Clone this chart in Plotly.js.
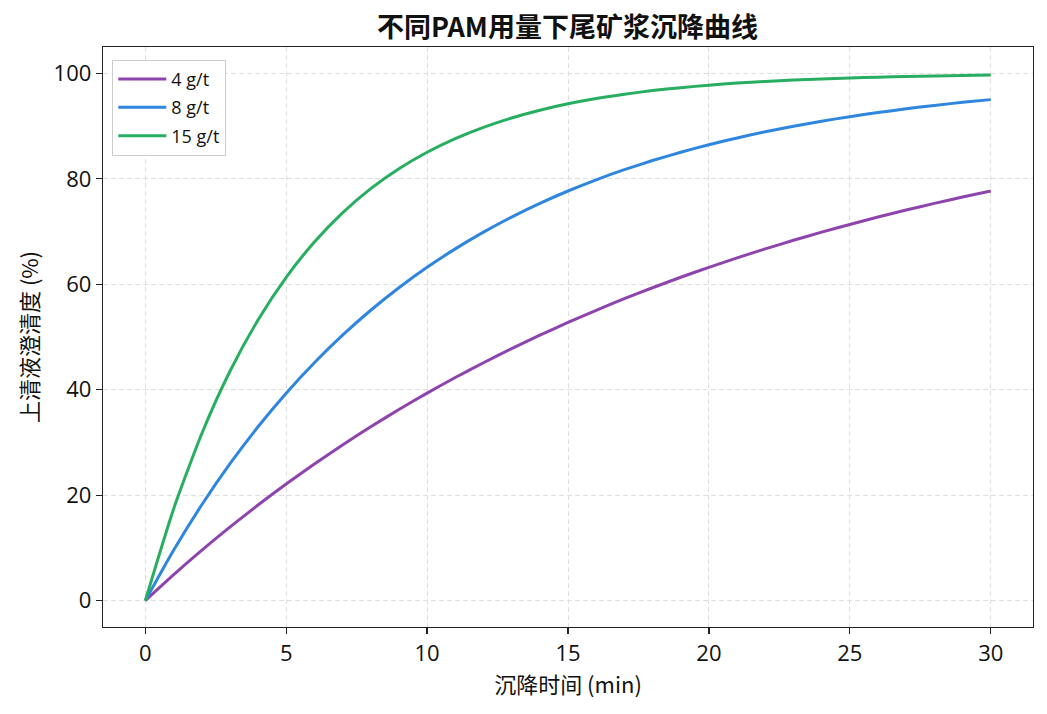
<!DOCTYPE html>
<html>
<head>
<meta charset="utf-8">
<script src="https://cdn.plot.ly/plotly-3.0.1.min.js"></script>
<style>html,body{margin:0;padding:0;background:#fff;}#chart{width:1047px;height:714px;}</style>
</head>
<body>
<div id="chart"></div>
<script>
const time = [0,1,2,3,4,5,6,7,8,9,10,11,12,13,14,15,16,17,18,19,20,21,22,23,24,25,26,27,28,29,30];
const seriesNames = ["4 g/t", "8 g/t", "15 g/t"];
const clarity4 = [0,4.88,9.52,13.93,18.13,22.12,25.92,29.53,32.97,36.24,39.35,42.31,45.12,47.80,50.34,52.76,55.07,57.26,59.34,61.33,63.21,65.01,66.71,68.34,69.88,71.35,72.75,74.08,75.34,76.54,77.69];
const clarity8 = [0,9.52,18.13,25.92,32.97,39.35,45.12,50.34,55.07,59.34,63.21,66.71,69.88,72.75,75.34,77.69,79.81,81.73,83.47,85.04,86.47,87.75,88.92,89.97,90.93,91.79,92.57,93.28,93.92,94.50,95.02];
const clarity15 = [0,17.30,31.61,43.45,53.23,61.33,68.02,73.55,78.13,81.91,85.04,87.63,89.77,91.54,93.01,94.22,95.22,96.04,96.73,97.29,97.76,98.15,98.47,98.73,98.95,99.13,99.28,99.41,99.51,99.59,99.67];
const colors = ["#8e44ad", "#2e86de", "#27ae60"];
const xTicks = [0,5,10,15,20,25,30];
const yTicks = [0,20,40,60,80,100];

const font = "Open Sans, Noto Sans CJK SC, sans-serif";
const cjk = "Noto Sans CJK SC, sans-serif";
const ys = [clarity4, clarity8, clarity15];
const traces = ys.map((y, i) => ({
  x: time, y: y, name: seriesNames[i], type: "scatter", mode: "lines",
  legendgroup: "g" + i,
  line: {color: colors[i], width: 3, shape: "spline", smoothing: 0.6}
}));

const axisCommon = {
  showline: true, mirror: true, linecolor: "#222", linewidth: 1.3,
  ticks: "outside", ticklen: 6, tickwidth: 1.3, tickcolor: "#222",
  showgrid: true, gridcolor: "#dedede", griddash: "5px,3px", gridwidth: 1,
  zeroline: false, tickfont: {family: font, size: 22, color: "#111"}
};

const layout = {
  width: 1047, height: 714,
  paper_bgcolor: "#fff", plot_bgcolor: "#fff",
  margin: {l: 103, r: 14, t: 47, b: 87},
  title: {text: "<b>不同PAM用量下尾矿浆沉降曲线</b>", x: 0.542, xanchor: "center", y: 0.962, yanchor: "middle",
          font: {family: cjk, size: 27, color: "#111"}},
  xaxis: Object.assign({}, axisCommon, {
    range: [-1.5, 31.5], tickvals: xTicks,
    title: {text: "沉降时间 (min)", font: {family: cjk, size: 22, color: "#111"}, standoff: 10}
  }),
  yaxis: Object.assign({}, axisCommon, {
    range: [-5, 105], tickvals: yTicks, ticksuffix: " ",
    title: {text: "上清液澄清度 (%)", font: {family: cjk, size: 22, color: "#111"}, standoff: 8}
  }),
  legend: {x: 0.01, y: 0.978, xanchor: "left", yanchor: "top",
           bgcolor: "rgba(255,255,255,0.9)", bordercolor: "#cccccc", borderwidth: 1,
           font: {family: font, size: 18, color: "#111"}, tracegroupgap: 2, itemwidth: 48},
  showlegend: true
};

Plotly.newPlot("chart", traces, layout, {displayModeBar: false, staticPlot: true});
</script>
</body>
</html>
